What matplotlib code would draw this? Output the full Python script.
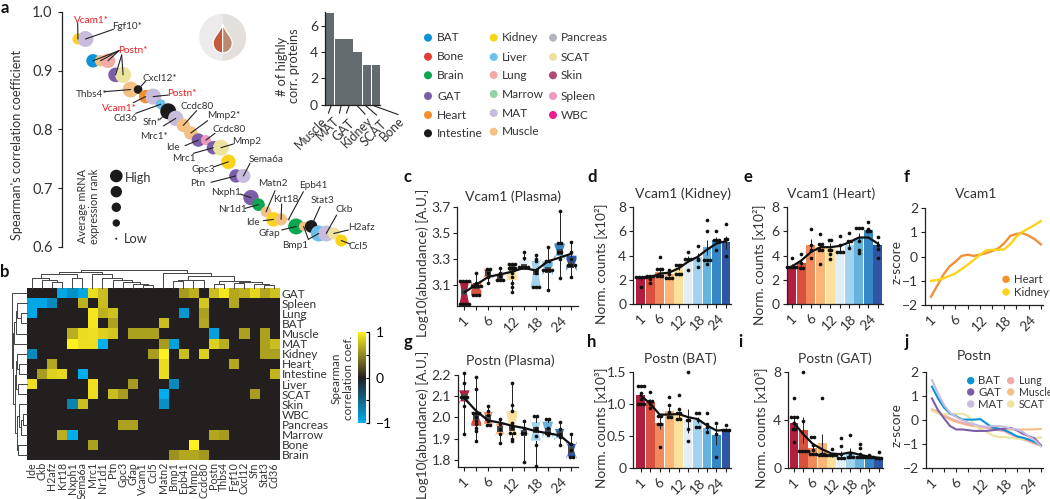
import numpy as np
import matplotlib
matplotlib.use('Agg')
import matplotlib.pyplot as plt
from matplotlib.colors import LinearSegmentedColormap
from matplotlib.patches import Circle, Wedge, PathPatch
from matplotlib.path import Path

plt.rcParams['font.family'] = ['Lato', 'DejaVu Sans']
plt.rcParams['axes.unicode_minus'] = True

W, H = 1050, 499
INK = '#333333'
AXC = '#231f20'

tissue_colors = {
    'BAT': '#0b93d8', 'Bone': '#e03e35', 'Brain': '#0aa650', 'GAT': '#7b5ea7',
    'Heart': '#f58f2a', 'Intestine': '#1a1a1a', 'Kidney': '#fbd31c', 'Liver': '#6cc0ec',
    'Lung': '#f2aaa7', 'Marrow': '#95d2a6', 'MAT': '#c8bcdc', 'Muscle': '#f5c084',
    'Pancreas': '#b0b5be', 'SCAT': '#ece39f', 'Skin': '#b04a72', 'Spleen': '#ee97bf',
    'WBC': '#ec1a8b',
}
age_colors = ['#b11e3f', '#d9503f', '#f08a5d', '#fbb677', '#fbe09e',
              '#e2eef6', '#a3d4ef', '#67b3e0', '#3587c5', '#2f55a5']
age_ticks = [0, 1, 2, 3, 4, 5, 6, 7, 8, 9]
age_labels = ['1', '', '6', '', '12', '', '18', '', '24', '']

# panel a
a_tissue = ['Kidney', 'MAT', 'BAT', 'Muscle', 'Lung', 'GAT', 'SCAT', 'Muscle', 'Intestine',
            'Heart', 'MAT', 'Liver', 'Intestine', 'MAT', 'Muscle', 'Muscle', 'GAT', 'Spleen',
            'GAT', 'SCAT', 'Kidney', 'GAT', 'MAT', 'GAT', 'Brain', 'Muscle', 'Kidney', 'Muscle',
            'Marrow', 'Brain', 'Muscle', 'Intestine', 'Liver', 'MAT', 'SCAT', 'Kidney']
a_rho = [.954, .954, .917, .917, .917, .893, .893, .868, .868, .856, .856, .843, .831, .819,
         .807, .794, .782, .782, .769, .769, .745, .721, .721, .684, .672, .660, .647, .647,
         .647, .635, .635, .635, .623, .623, .623, .611]
a_radius = [5.5, 8, 6.7, 5.7, 7.3, 7.3, 8, 8, 4.3, 6.7, 8, 5, 8, 7.7, 6.7, 6.7, 6.7, 5,
            6.7, 8, 7.3, 6.7, 7, 7.7, 6.3, 5.3, 7.3, 6, 1.5, 8, 4.7, 6.3, 8, 8, 6, 6]

bar_names = ['Muscle', 'MAT', 'GAT', 'Kidney', 'SCAT', 'Bone']
bar_counts = [7, 5, 5, 4, 3, 3]

# panel b
gene_names = ['Ide', 'Ckb', 'H2afz', 'Krt18', 'Nxph1', 'Sema6a', 'Mrc1', 'Nr1d1', 'Ptn', 'Gpc3',
              'Gfap', 'Vcam1', 'Ccl5', 'Matn2', 'Bmp1', 'Epb41', 'Mmp2', 'Ccdc80', 'Postn',
              'Thbs4', 'Fgf10', 'Cxcl12', 'Sfn', 'Stat3', 'Cd36']
heat_rows = ['GAT', 'Spleen', 'Lung', 'BAT', 'Muscle', 'MAT', 'Kidney', 'Heart', 'Intestine',
             'Liver', 'SCAT', 'Skin', 'WBC', 'Pancreas', 'Marrow', 'Bone', 'Brain']
heat_vals = [
    [0, 0, 0, -.95, -.8, -.95, .9, .75, 0, 0, 0, 0, 0, 0, 0, .6, .7, 0, .75, .95, .65, .7, .88, .65, .78],
    [-.95, -.95, -.75, 0, 0, .7, 0, .75, 0, 0, 0, 0, 0, 0, 0, 0, 0, .8, 0, 0, .65, 0, 0, 0, 0],
    [-.95, 0, 0, 0, 0, 0, .95, .7, .78, 0, 0, 0, 0, 0, 0, -.85, 0, .62, 0, 0, 0, 0, 0, 0, 0],
    [0, 0, 0, 0, 0, 0, .95, 0, .62, 0, 0, 0, 0, .75, 0, 0, 0, .65, 0, 0, 0, 0, 0, 0, 0],
    [0, 0, 0, 0, .68, .9, .92, .85, .8, 0, .62, .62, .62, 0, 0, 0, 0, 0, -.9, 0, 0, .62, 0, .62, 0],
    [0, 0, 0, 0, 1, .92, .92, -1, 0, 0, 0, 0, 0, .6, -.9, 0, 0, 0, .85, .68, 0, 0, 0, .62, .75],
    [-.75, 0, 0, 0, 0, 0, 0, 0, 0, 0, 0, 0, .6, 1, 0, .75, 0, .85, 0, 0, 0, 0, 0, .62, .62],
    [0, 0, .65, 0, 0, 0, 0, 0, 0, 0, 0, 0, 0, .9, 0, 0, 0, 0, 0, 0, .65, 0, 0, 0, 0],
    [0, .6, .85, .88, 0, -1, 0, 0, 0, 0, 0, 0, 0, .9, 0, 0, 0, 0, 0, 0, 0, 0, 0, 0, .72],
    [.92, 0, 0, 0, 0, 0, .92, 0, 0, 0, .6, 0, 0, 0, -.75, 0, 0, 0, 0, 0, 0, 0, 0, 0, 0],
    [0, 0, 0, 0, 0, 0, .92, 0, .75, .6, 0, 0, 0, -1, 0, 0, 0, 0, 0, 0, 0, 0, .6, 0, 0],
    [0, 0, 0, 0, -.7, .75, 0, 0, 0, 0, 0, 0, 0, -.8, 0, 0, 0, 0, 0, 0, 0, 0, 0, 0, 0],
    [0] * 25,
    [0, 0, 0, 0, 0, 0, 0, 0, 0, .62, .62, 0, 0, 0, 0, 0, 0, 0, 0, 0, 0, 0, 0, 0, 0],
    [0, 0, 0, .68, -1, 0, 0, 0, 0, 0, 0, 0, 0, 0, 0, 0, 0, 0, .65, .6, 0, 0, 0, 0, 0],
    [0, 0, 0, 0, 0, 0, .62, 0, 0, 0, 0, 0, 0, 0, 0, 0, 1, 0, 0, 0, 0, 0, 0, 0, 0],
    [0, 0, 0, 0, 0, 0, 0, 0, 0, 0, 0, 0, 0, 0, .55, .65, .65, .58, 0, 0, 0, 0, 0, 0, 0],
]
# dendrograms: (height, left, right), leaves are indices
col_tree = (43,
            (38,
             (33, (25, 0, (18, 1, (15, 2, 3))), (25, 4, 5)),
             (33, 6, (25, 7, (20, 8, (15, 9, (10, 10, (8, 11, 12))))))),
            (36, 13,
             (28, (20, (16, 14, 15), (18, 16, 17)),
              (17, (10, 18, 19), (14, (12, 20, 21), (9, 22, (7, 23, 24)))))))
row_tree = (43, 0,
            (41,
             (37, (33, (28, 1, (18, 2, 3)), 4), 5),
             (36,
              (33, (28, 6, (22, 7, 8)), (27, 9, 10)),
              (28, (22, 11, (18, (12, 12, 13), 14)), (25, 15, 16)))))

# panels c, g: abundance per mouse
c_points = [
    [3.13, 3.13, 3.13, 3.13, 2.95, 2.95, 2.95, 2.95],
    [3.19, 3.11, 3.09, 3.09, 3.09, 3.09, 3.02, 3.02, 3.02],
    [3.22, 3.22, 3.19, 3.16, 3.11],
    [3.23, 3.19, 3.17, 3.14, 3.14, 3.14],
    [3.26, 3.26, 3.26, 3.23, 3.23, 3.23, 3.19, 3.16, 3.11, 3.08, 3.04],
    [3.35, 3.31, 3.24, 3.24, 3.24, 3.24],
    [3.33, 3.30, 3.28, 3.21, 3.19, 3.08, 3.08, 3.08],
    [3.39, 3.28, 3.28, 3.21, 3.21, 3.21, 3.21, 3.06],
    [3.67, 3.42, 3.42, 3.35, 3.35, 3.30, 3.15],
    [3.43, 3.35, 3.30, 3.25, 3.25, 3.25, 3.16],
]
c_line = [3.04, 3.10, 3.16, 3.18, 3.20, 3.23, 3.21, 3.28, 3.31, 3.34]
g_points = [
    [2.21, 2.16, 2.095, 2.095, 2.095, 2.055, 1.92],
    [2.19, 2.135, 2.02, 2.02, 2.02, 2.0, 1.985, 1.97, 1.95, 1.935, 1.89],
    [2.055, 2.03, 2.01, 1.985, 1.965, 1.965],
    [1.99, 1.97, 1.945, 1.92, 1.88],
    [2.16, 2.06, 2.03, 1.975, 1.95, 1.925, 1.925, 1.9, 1.89],
    [1.985, 1.95, 1.925, 1.925, 1.79],
    [2.005, 2.005, 1.95, 1.94, 1.91, 1.87, 1.77],
    [1.99, 1.99, 1.95, 1.925, 1.925, 1.915],
    [1.98, 1.945, 1.92, 1.905, 1.87],
    [1.92, 1.875, 1.845, 1.815, 1.815],
]
g_line = [2.09, 2.03, 1.985, 1.975, 1.96, 1.95, 1.935, 1.925, 1.915, 1.87]

# panels d, e, h, i: normalised counts
d_bars = [2.1, 2.15, 2.65, 2.45, 3.0, 3.7, 3.9, 4.7, 5.3, 5.1]
d_points = [
    [2.25, 2.25, 2.25, 2.25, 1.4],
    [2.3, 2.3, 2.3, 2.1, 1.7],
    [3.9, 2.9, 2.9, 2.9, 2.3, 2.3, 2.3],
    [2.8, 2.5, 2.15, 2.15, 2.15],
    [3.2, 3.2, 3.2, 2.5, 2.5, 2.5],
    [4.3, 3.75, 3.75, 3.75, 2.85],
    [4.8, 3.75, 3.6, 3.1],
    [6.95, 6.05, 3.65, 3.65, 3.65, 3.3],
    [6.05, 5.3, 5.3, 5.3, 4.5],
    [6.6, 5.4, 5.4, 4.0],
]
d_line = [2.15, 2.2, 2.5, 2.6, 2.95, 3.5, 3.9, 4.5, 5.0, 5.2]
e_bars = [3.15, 3.4, 4.9, 4.7, 4.75, 4.5, 4.9, 5.5, 6.1, 4.85]
e_points = [
    [3.8, 3.1, 3.1, 3.1, 3.1],
    [4.1, 3.4, 2.95, 2.95],
    [6.2, 4.9, 4.5, 3.8],
    [5.75, 4.95, 4.95, 4.45, 4.45, 3.35],
    [5.3, 5.3, 4.5, 4.5, 4.1, 3.7],
    [5.65, 4.9, 4.3, 4.3, 4.3],
    [5.85, 5.2, 5.2, 4.65],
    [6.3, 6.3, 6.3, 5.2, 4.5, 4.2],
    [6.8, 6.2, 6.0, 6.0],
    [5.55, 4.9, 4.55, 3.8],
]
e_line = [3.1, 3.6, 4.3, 4.7, 4.7, 4.8, 5.1, 5.5, 5.5, 5.0]
h_bars = [1.14, 1.03, .7, .88, .83, .73, .74, .62, .51, .6]
h_points = [
    [1.28, 1.28, 1.28, 1.16, 1.07, 1.0, 1.0, 1.0],
    [1.19, 1.05, 1.05, 1.0, .94],
    [.81, .81, .68, .68, .32],
    [1.11, .98, .87, .79, .79],
    [1.13, .91, .85, .85, .76, .76],
    [1.49, .74, .74, .61, .42],
    [.86, .86, .74, .64, .64],
    [.85, .69, .64, .56],
    [.7, .53, .17],
    [.67, .59, .59, .59],
]
h_line = [1.13, 1.0, .83, .83, .84, .79, .76, .66, .58, .59]
i_bars = [3.75, 3.15, 1.65, 2.05, 1.05, 1.1, 1.35, 1.0, .95, .8]
i_points = [
    [5.8, 4.2, 4.2, 4.2, 3.7, 3.2, 3.2, 2.2],
    [7.95, 3.9, 1.4, 1.4, 1.4, 1.4],
    [2.55, 2.55, 1.9, 1.5, 1.15, 1.15, 1.15],
    [5.8, 1.2, 1.2, 1.1, 1.1, 1.1],
    [1.6, 1.1, 1.1, 1.1, 1.1],
    [2.5, 1.8, 1.2, .8, .8, .8],
    [2.7, 1.15, .9, .9, .9],
    [2.0, 1.7, 1.2, .95, .95, .95],
    [1.1, .9, .9, .9, .9],
    [1.3, .8, .8, .8],
]
i_line = [3.75, 2.8, 2.0, 1.55, 1.2, 1.15, 1.3, 1.1, .95, .85]

# panels f, j: z-scores, read every half age step
z_x = [0, .5, 1, 1.5, 2, 2.5, 3, 3.5, 4, 4.5, 5, 5.5, 6, 6.5, 7, 7.5, 8, 8.5, 9]
f_heart = [-1.66, -1.21, -.76, -.41, -.21, .03, .08, .03, .08, .14, .23, .34, .55, .86, .94, .97, .87, .72, .51]
f_kidney = [-1.0, -.97, -.9, -.8, -.69, -.52, -.34, -.14, .07, .25, .28, .28, .3, .52, .83, 1.03, 1.17, 1.31, 1.47]
j_bat = [1.38, .89, .51, .26, .15, .01, .01, .01, .03, -.15, -.32, -.36, -.43, -.54, -.68, -.74, -.82, -.92, -1.06]
j_gat = [.89, .4, .06, -.26, -.4, -.4, -.43, -.46, -.46, -.46, -.43, -.4, -.36, -.33, -.43, -.57, -.68, -.78, -1.06]
j_mat = [1.65, 1.1, .61, .29, .12, -.01, -.12, -.19, -.26, -.29, -.26, -.26, -.29, -.36, -.4, -.5, -.68, -.85, -1.1]
j_lung = [.4, .33, .19, .06, -.04, -.12, -.19, -.25, -.29, -.33, -.39, -.43, -.47, -.6, -.71, -.81, -.89, -.99, -1.06]
j_muscle = [.44, .33, .15, .01, -.08, -.15, -.22, -.26, -.29, -.33, -.36, -.39, -.4, -.4, -.4, -.4, -.4, -.39, -.38]
j_scat = [.38, .26, .24, .24, .24, .26, .15, -.22, -.39, -.5, -.64, -.71, -.71, -.74, -.78, -.81, -.78, -.75, -.74]


def px_axes(l, t, r, b):
    return fig.add_axes([l / W, 1 - b / H, (r - l) / W, (b - t) / H], facecolor='none')


def style_axes(ax, fs=10):
    for s in ['top', 'right']:
        ax.spines[s].set_visible(False)
    for s in ['left', 'bottom']:
        ax.spines[s].set_linewidth(0.9)
        ax.spines[s].set_color(AXC)
    ax.tick_params(length=3, width=0.8, color=AXC, labelcolor=INK, labelsize=fs, pad=2)


def age_axis(ax, xlim):
    ax.set_xlim(*xlim)
    ax.set_xticks(age_ticks)
    ax.set_xticklabels(age_labels)
    ax.tick_params(axis='x', pad=3)
    plt.setp(ax.get_xticklabels(), rotation=45, ha='center', va='top', rotation_mode='default')


def swarm(ax, points, step=0.3, s=7):
    # same value dots get spread sideways
    for i, vals in enumerate(points):
        for v in set(vals):
            n = vals.count(v)
            xs = [i + (k - (n - 1) / 2) * step for k in range(n)]
            ax.scatter(xs, [v] * n, s=s, color='#111111', zorder=4, linewidths=0, clip_on=False)


def box_panel(ax, points, line, ylim, yticks, xlim):
    bp = ax.boxplot(points, positions=age_ticks, widths=0.85, notch=True, patch_artist=True,
                    showfliers=False, showcaps=False, manage_ticks=False, whis=(0, 100),
                    boxprops=dict(linewidth=0), whiskerprops=dict(color='#222222', linewidth=0.7),
                    medianprops=dict(linewidth=0))
    for box, col in zip(bp['boxes'], age_colors):
        box.set_facecolor(col)
    swarm(ax, points, step=0.26)
    ax.scatter(age_ticks, [np.median(p) for p in points], marker='s', s=16, color='#4a4a4a', zorder=3, linewidths=0)
    ax.plot(age_ticks, line, color='#111111', lw=1.6, zorder=5)
    ax.set_ylim(*ylim)
    ax.set_yticks(yticks)
    ax.set_yticklabels(['%.1f' % t for t in yticks])
    style_axes(ax)
    age_axis(ax, xlim)


def bar_panel(ax, bars, points, line, ylim, yticks, ylabels, xlim):
    ax.bar(age_ticks, bars, width=0.93, color=age_colors, linewidth=0, zorder=1)
    sem = [np.std(p, ddof=1) / np.sqrt(len(p)) for p in points]
    ax.errorbar(age_ticks, bars, yerr=sem, fmt='none', ecolor='#222222', elinewidth=0.7, zorder=2)
    swarm(ax, points)
    ax.plot(age_ticks, line, color='#111111', lw=1.6, zorder=5)
    ax.set_ylim(*ylim)
    ax.set_yticks(yticks)
    ax.set_yticklabels(ylabels)
    style_axes(ax)
    age_axis(ax, xlim)


def z_panel(ax, xlim):
    ax.set_ylim(-2, 2)
    ax.set_yticks([-2, -1, 0, 1, 2])
    style_axes(ax)
    age_axis(ax, xlim)


def draw_tree(tree, xy_line, pos):
    # returns leaf position of a node and draws its bracket
    if not isinstance(tree, tuple):
        return pos(tree), 0
    h, left, right = tree
    p1, h1 = draw_tree(left, xy_line, pos)
    p2, h2 = draw_tree(right, xy_line, pos)
    xy_line([p1, p1, p2, p2], [h1, h, h, h2])
    return (p1 + p2) / 2, h


fig = plt.figure(figsize=(W / 100, H / 100), dpi=100)

# ---------- a ----------
ax_a = px_axes(62.3, 12, 350, 247)
ax_a.scatter(range(len(a_rho)), a_rho,
             s=[(2 * r * 0.72) ** 2 for r in a_radius],
             c=[tissue_colors[t] for t in a_tissue], linewidths=0, clip_on=False, zorder=2)
ax_a.set_xlim(-2.08, 36.16)
ax_a.set_ylim(0.6, 1.0)
ax_a.set_yticks([0.6, 0.7, 0.8, 0.9, 1.0])
style_axes(ax_a, fs=10.5)
ax_a.spines['bottom'].set_visible(False)
ax_a.set_xticks([])
ax_a.set_yticklabels(['0.6', '0.7', '0.8', '0.9', '1.0'])
ax_a.tick_params(axis='y', pad=4)

over = fig.add_axes([0, 0, 1, 1], facecolor='none', zorder=10)
over.set_xlim(0, W)
over.set_ylim(H, 0)
over.axis('off')

# labels of panel a, positions in 3x crop pixels
RED = '#ed1c24'
a_labels = [
    ('Vcam1*', 274, 60, RED, [(233, 70, 0)]),
    ('Fgf10*', 382, 78, INK, [(340, 88, 1)]),
    ('Postn*', 398, 152, RED, [(357, 152, 2), (357, 152, 3), (357, 152, 4), (365, 165, 5), (365, 165, 6)]),
    ('Cxcl12*', 480, 236, INK, [(437, 243, 8)]),
    ('Thbs4*', 275, 282, INK, [(313, 275, 7)]),
    ('Postn*', 545, 279, RED, [(505, 285, 10)]),
    ('Vcam1*', 358, 325, RED, [(400, 308, 9)]),
    ('Cd36', 375, 354, INK, [(407, 340, 11)]),
    ('Sfn*', 457, 368, INK, [(480, 358, 12)]),
    ('Mrc1*', 462, 410, INK, [(490, 378, 13)]),
    ('Ccdc80', 590, 318, INK, [(590, 332, 14)]),
    ('Mmp2*', 672, 347, INK, [(623, 362, 15)]),
    ('Ccdc80', 688, 390, INK, [(645, 400, 17)]),
    ('Ide', 520, 443, INK, [(555, 437, 16)]),
    ('Mrc1', 553, 475, INK, [(580, 460, 18)]),
    ('Mmp2', 740, 425, INK, [(700, 432, 19)]),
    ('Gpc3', 610, 507, INK, [(643, 500, 20)]),
    ('Sema6a', 797, 480, INK, [(750, 490, 22)]),
    ('Ptn', 593, 551, INK, [(633, 547, 21)]),
    ('Nxph1', 678, 577, INK, [(720, 582, 23)]),
    ('Nr1d1', 696, 627, INK, [(735, 625, 24)]),
    ('Matn2', 818, 550, INK, [(825, 572, 25)]),
    ('Krt18', 856, 597, INK, [(845, 612, 27)]),
    ('Ide', 760, 667, INK, [(790, 662, 26)]),
    ('Epb41', 940, 556, INK, [(910, 575, 28)]),
    ('Gfap', 808, 702, INK, [(845, 690, 29)]),
    ('Stat3', 966, 602, INK, [(960, 620, 31)]),
    ('Bmp1', 885, 736, INK, [(925, 718, 30), (925, 718, 32)]),
    ('Ckb', 1033, 628, INK, [(1010, 645, 33)]),
    ('H2afz', 1083, 681, INK, [(1045, 690, 34)]),
    ('Ccl5', 1076, 740, INK, [(1050, 732, 35)]),
]
for text, cx, cy, col, leaders in a_labels:
    over.text(cx / 3, cy / 3, text, color=col, fontsize=7.2, ha='center', va='center')
    for sx, sy, idx in leaders:
        ax_a.annotate('', xy=(idx, a_rho[idx]), xytext=(sx / 3, sy / 3), textcoords=over.transData,
                      arrowprops=dict(arrowstyle='-', lw=0.8, color='#222222', shrinkA=0, shrinkB=0),
                      annotation_clip=False, zorder=6)

over.text(17, 145, "Spearman's correlation coefficient", rotation=90, fontsize=9.2,
          color=INK, ha='center', va='center')

# mRNA size key
key_y = [176, 191.7, 207.3, 223, 238.7]
key_r = [6.3, 5.7, 4.7, 3.7, 1]
for y, r in zip(key_y, key_r):
    over.add_patch(Circle((116.3, y), r, color='#1a1a1a', lw=0))
over.text(138.5, 178, 'High', fontsize=9.2, color=INK, ha='center', va='center')
over.text(136, 239, 'Low', fontsize=9.2, color=INK, ha='center', va='center')
over.text(88.5, 206, 'Average mRNA\nexpression rank', rotation=90, fontsize=7.8, color=INK,
          ha='center', va='center', linespacing=1.15)

# plasma icon
over.add_patch(Wedge((222.7, 37.3), 23.5, 90, 270, color='#eceaea', lw=0))
over.add_patch(Wedge((222.7, 37.3), 23.5, 270, 90, color='#e3dfdb', lw=0))
cx = 222.7
for sign, col in [(-1, '#c65a3c'), (1, '#b98a70')]:
    verts = [(cx, 24), (cx + sign * 3, 33), (cx + sign * 9.5, 37), (cx + sign * 9.5, 43),
             (cx + sign * 9.5, 49), (cx + sign * 5, 53), (cx, 53), (cx, 24)]
    codes = [Path.MOVETO, Path.CURVE4, Path.CURVE4, Path.CURVE4, Path.CURVE4, Path.CURVE4, Path.CURVE4, Path.LINETO]
    over.add_patch(PathPatch(Path(verts, codes), facecolor=col, edgecolor='white', lw=0.8))

# inset bars
ax_bar = px_axes(325, 12, 380, 104.7)
ax_bar.bar(range(len(bar_counts)), bar_counts, width=0.92, color='#636b6e', linewidth=0)
ax_bar.set_xlim(-0.58, 5.46)
ax_bar.set_ylim(0, 7.05)
ax_bar.set_yticks([0, 2, 4, 6])
ax_bar.set_xticks([])
style_axes(ax_bar, fs=10)
over.text(288, 66, '# of highly\ncorr. proteins', rotation=90, fontsize=9.2, color=INK,
          ha='center', va='center', linespacing=1.1)
bar_label_pos = [(311, 133), (328, 129), (343, 130), (357, 132), (374, 133), (392, 129)]
bar_leaders = [((331, 106), (328.5, 113)), ((341, 106), (339.5, 113)), ((349, 106), (346.5, 113)),
               ((357.5, 106), (365, 114)), ((366, 106), (376.5, 115)), ((374.5, 106), (398, 114.5))]
for name, (x, y), (p0, p1) in zip(bar_names, bar_label_pos, bar_leaders):
    over.text(x, y, name, rotation=45, fontsize=9, color=INK, ha='center', va='center')
    over.plot([p0[0], p1[0]], [p0[1], p1[1]], color='#222222', lw=0.8)

# tissue legend
legend_cols = [
    (428, 437, [('BAT', 37.7), ('Bone', 56.7), ('Brain', 75.3), ('GAT', 96), ('Heart', 115), ('Intestine', 133.3)]),
    (493.7, 502.3, [('Kidney', 37.7), ('Liver', 57), ('Lung', 75), ('Marrow', 94), ('MAT', 113), ('Muscle', 131.7)]),
    (553, 561, [('Pancreas', 37.7), ('SCAT', 57), ('Skin', 75.3), ('Spleen', 96), ('WBC', 115)]),
]
for cxx, tx, items in legend_cols:
    for name, y in items:
        over.add_patch(Circle((cxx, y), 4, color=tissue_colors[name], lw=0))
        over.text(tx, y, name, fontsize=8.6, color=INK, ha='left', va='center')

# ---------- b ----------
ax_h = px_axes(26.67, 288, 279.3, 460)
heat_cmap = LinearSegmentedColormap.from_list('sp', ['#00aeef', '#231f20', '#fff01f'])
im = ax_h.imshow(np.array(heat_vals), cmap=heat_cmap, vmin=-1, vmax=1, aspect='auto', interpolation='nearest')
ax_h.set_xticks(range(len(gene_names)))
ax_h.set_xticklabels(gene_names, rotation=90, fontsize=7.7, color=INK)
ax_h.yaxis.tick_right()
ax_h.set_yticks(range(len(heat_rows)))
ax_h.set_yticklabels(heat_rows, fontsize=8.6, color=INK)
ax_h.tick_params(length=0, pad=1.5)
for s in ax_h.spines.values():
    s.set_visible(False)

ax_top = px_axes(26.67, 270, 279.3, 288)
ax_top.set_xlim(-0.5, 24.5)
ax_top.set_ylim(0, 43)
ax_top.axis('off')
draw_tree(col_tree, lambda xs, ys: ax_top.plot(xs, ys, color='#444444', lw=0.7, clip_on=False), lambda i: i)

ax_left = px_axes(12.3, 288, 26.67, 460)
ax_left.set_xlim(43, 0)
ax_left.set_ylim(16.5, -0.5)
ax_left.axis('off')
draw_tree(row_tree, lambda ys, xs: ax_left.plot(xs, ys, color='#444444', lw=0.7, clip_on=False), lambda i: i)

ax_cb = px_axes(357.7, 332, 365.7, 423.3)
cb = fig.colorbar(im, cax=ax_cb)
cb.outline.set_visible(False)
cb.set_ticks([-1, -.5, 0, .5, 1])
cb.set_ticklabels(['\u22121', '', '0', '', '1'], rotation=90, va='center', fontsize=8.5, color=INK)
ax_cb.spines['right'].set_visible(True)
ax_cb.spines['right'].set_position(('outward', 2.4))
ax_cb.spines['right'].set_linewidth(0.9)
ax_cb.tick_params(axis='y', direction='in', length=2, width=0.8, pad=5)
over.text(342, 378, 'Spearman\ncorrelation coef.', rotation=90, fontsize=8.4, color=INK,
          ha='center', va='center', linespacing=1.15)

# ---------- c, g ----------
ax_c = px_axes(457.3, 207.3, 578, 305.7)
box_panel(ax_c, c_points, c_line, (2.937, 3.7), [3.1, 3.3, 3.5, 3.7], (-0.59, 9.55))
ax_g = px_axes(457.7, 375, 578, 467.3)
box_panel(ax_g, g_points, g_line, (1.764, 2.2), [1.8, 1.9, 2.0, 2.1, 2.2], (-0.56, 9.55))

# ---------- d, e, h, i ----------
ticks8 = [0, 2, 4, 6, 8]
ax_d = px_axes(633.3, 207.3, 730.7, 304)
bar_panel(ax_d, d_bars, d_points, d_line, (0, 8), ticks8, ticks8, (-0.78, 9.5))
ax_e = px_axes(786.7, 207.3, 882.7, 304)
bar_panel(ax_e, e_bars, e_points, e_line, (0, 8), ticks8, ticks8, (-0.53, 9.5))
ax_h2 = px_axes(633.3, 371.7, 730.7, 467.7)
bar_panel(ax_h2, h_bars, h_points, h_line, (0, 1.5), [0, .5, 1, 1.5], ['0', '0.5', '1.0', '1.5'], (-0.78, 9.5))
ax_i = px_axes(788.3, 371.7, 883.3, 468)
bar_panel(ax_i, i_bars, i_points, i_line, (0, 8), [0, 4, 8], [0, 4, 8], (-0.6, 9.5))

# ---------- f, j ----------
ax_f = px_axes(925, 208.3, 1043, 305)
ax_f.plot(z_x, f_heart, color='#f0913a', lw=1.7)
ax_f.plot(z_x, f_kidney, color='#fbd31c', lw=1.7)
z_panel(ax_f, (-0.49, 9.18))
for name, y in [('Heart', 279.3), ('Kidney', 292)]:
    over.add_patch(Circle((1006, y), 3.7, color=tissue_colors[name], lw=0))
    over.text(1014, y, name, fontsize=8.2, color=INK, ha='left', va='center')

ax_j = px_axes(925.7, 371.7, 1043, 468)
for vals, name in [(j_muscle, 'Muscle'), (j_lung, 'Lung'), (j_scat, 'SCAT'), (j_bat, 'BAT'), (j_gat, 'GAT'), (j_mat, 'MAT')]:
    ax_j.plot(z_x, vals, color=tissue_colors[name], lw=1.5)
z_panel(ax_j, (-0.52, 9.18))
for cxx, tx, names, fs in [(970.7, 978.3, ['BAT', 'GAT', 'MAT'], 8.2), (1010.7, 1018.7, ['Lung', 'Muscle', 'SCAT'], 7.6)]:
    for name, y in zip(names, [380.7, 392, 404]):
        over.add_patch(Circle((cxx, y), 3.7, color=tissue_colors[name], lw=0))
        over.text(tx, y, name, fontsize=fs, color=INK, ha='left', va='center')

# titles and y labels
titles = [('Vcam1 (Plasma)', 513, 197), ('Vcam1 (Kidney)', 683, 194), ('Vcam1 (Heart)', 831, 194),
          ('Vcam1', 975.7, 194), ('Postn (Plasma)', 510, 361), ('Postn (BAT)', 680, 359),
          ('Postn (GAT)', 835, 359), ('Postn', 974, 356)]
for t, x, y in titles:
    over.text(x, y, t, fontsize=10, color=INK, ha='center', va='center')
ylabs = [('Log10(abundance) [A.U.]', 423, 263), ('Norm. counts [x10\u00b2]', 601, 264),
         ('Norm. counts [x10\u00b2]', 759, 265), ('z-score', 897, 262),
         ('Log10(abundance) [A.U.]', 423, 425), ('Norm. counts [x10\u00b3]', 601, 428),
         ('Norm. counts [x10\u00b3]', 761, 428), ('z-score', 897, 425)]
for t, x, y in ylabs:
    over.text(x, y, t, fontsize=9.8, color=INK, rotation=90, ha='center', va='center')

letters = [('a', 5, 8), ('b', 5, 272), ('c', 408, 177), ('d', 592, 177), ('e', 748, 177), ('f', 907, 177),
           ('g', 408, 342), ('h', 592, 342), ('i', 740, 342), ('j', 907, 342)]
for t, x, y in letters:
    over.text(x, y, t, fontsize=12, fontweight='bold', color='#111111', ha='center', va='center')

fig.savefig('out.png', dpi=100)
